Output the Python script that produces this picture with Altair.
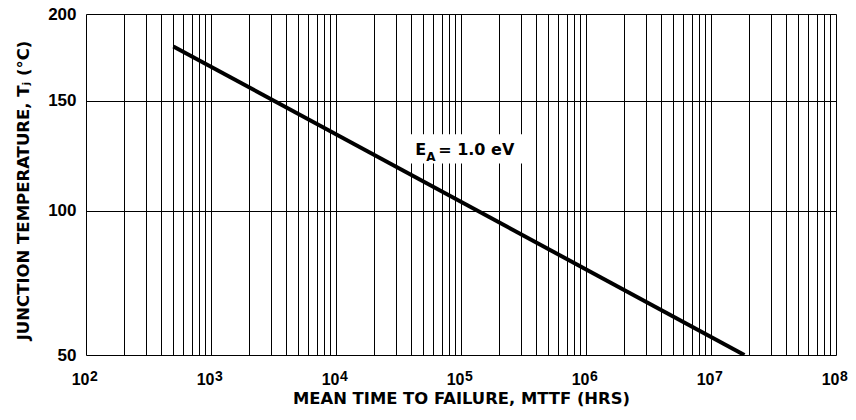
import altair as alt
import pandas as pd

# Data
hours = [500, 1.85e7]
temp_c = [180, 50]

y_ticks = [50, 100, 150, 200]
x_min, x_max = 100, 1e8
decades = [2, 3, 4, 5, 6, 7, 8]
x_grid = [k * 10 ** n for n in range(2, 8) for k in range(1, 10)] + [10 ** 8]

# annotation (data coordinates)
ann_x = [4.3e4]
ann_t = [123.8]
box_x = [3.3e4]
box_x2 = [3.3e5]
box_t = [133.5]
box_t2 = [120.0]

K = 273.15
def inv(t):
    return -1.0 / (t + K)

num_font = "Liberation Sans"
txt_font = "DejaVu Sans"

line_df = pd.DataFrame({"hours": hours, "temp": temp_c})
ann_df = pd.DataFrame({"x": ann_x, "t": ann_t})
box_df = pd.DataFrame({"x": box_x, "x2": box_x2, "t": box_t, "t2": box_t2})
exp_df = pd.DataFrame({"x": [10.0 ** e for e in decades],
                       "e": [str(e) for e in decades],
                       "t": [y_ticks[0]] * len(decades)})

x_label_expr = (
    "abs(log(datum.value)/LN10 - round(log(datum.value)/LN10)) < 1e-6 ? '10' : ''"
)

xscale = alt.Scale(type="log", domain=[x_min, x_max], nice=False)
yscale = alt.Scale(domain=[inv(50), inv(200)], nice=False, zero=False)

xaxis = alt.Axis(
    values=x_grid, grid=True, gridColor="#000", gridWidth=1, gridOpacity=1,
    ticks=False, domain=False, labelExpr=x_label_expr, labelOverlap=False,
    labelFlush=False, labelFont=num_font, labelFontWeight="bold", labelFontSize=16,
    labelColor="#000", labelPadding=16, labelBaseline="top", labelAlign="right",
    labelOffset=3,
    title="MEAN TIME TO FAILURE, MTTF (HRS)", titleFont=txt_font,
    titleFontWeight="bold", titleFontSize=16.4, titleColor="#000",
    titleBaseline="alphabetic", titleY=48,
)
yaxis = alt.Axis(
    values=[inv(t) for t in y_ticks], grid=True, gridColor="#000", gridWidth=1,
    gridOpacity=1, ticks=False, domain=False,
    labelExpr="format(round(-1/datum.value - 273.15), 'd')",
    labelFont=num_font, labelFontWeight="bold", labelFontSize=17, labelColor="#000",
    labelPadding=10, labelOverlap=False, labelFlush=False,
    title="JUNCTION TEMPERATURE, Tⱼ (°C)", titleFont=txt_font,
    titleFontWeight="bold", titleFontSize=16.5, titleColor="#000",
    titleBaseline="alphabetic", titleX=-58, titleY=176,
)

base_line = alt.Chart(line_df).transform_calculate(
    inv="-1/(datum.temp + 273.15)"
).mark_line(color="#000", strokeWidth=4, clip=True).encode(
    x=alt.X("hours:Q", scale=xscale, axis=xaxis),
    y=alt.Y("inv:Q", scale=yscale, axis=yaxis),
)

box = alt.Chart(box_df).transform_calculate(
    i1="-1/(datum.t + 273.15)", i2="-1/(datum.t2 + 273.15)"
).mark_rect(color="white").encode(
    x=alt.X("x:Q", scale=xscale), x2="x2:Q",
    y=alt.Y("i1:Q", scale=yscale), y2="i2:Q",
)

exps = alt.Chart(exp_df).transform_calculate(
    i="-1/(datum.t + 273.15)"
).mark_text(align="left", baseline="alphabetic", font=num_font,
            fontWeight="bold", fontSize=14, dx=4, dy=26,
            color="#000").encode(
    x=alt.X("x:Q", scale=xscale), y=alt.Y("i:Q", scale=yscale), text="e:N",
)

ann_base = alt.Chart(ann_df).transform_calculate(i="-1/(datum.t + 273.15)")
enc = dict(x=alt.X("x:Q", scale=xscale), y=alt.Y("i:Q", scale=yscale))
t_e = ann_base.mark_text(text="E", align="left", baseline="alphabetic",
                         font=txt_font, fontWeight="bold", fontSize=16,
                         color="#000").encode(**enc)
t_a = ann_base.mark_text(text="A", align="left", baseline="alphabetic",
                         font=txt_font, fontWeight="bold", fontSize=12, dx=11,
                         dy=6, color="#000").encode(**enc)
t_rest = ann_base.mark_text(text="= 1.0 eV", align="left", baseline="alphabetic",
                            font=txt_font, fontWeight="bold", fontSize=16, dx=23,
                            color="#000").encode(**enc)

chart = alt.layer(box, base_line, exps, t_e, t_a, t_rest).properties(
    width=750, height=341,
    autosize=alt.AutoSizeParams(type="none"),
    padding={"left": 78, "top": 6, "right": 12, "bottom": 56},
).configure_view(stroke="#000", strokeWidth=1.5).configure(background="white")

chart.save("out.html", embed_options={"renderer": "svg", "actions": False})
